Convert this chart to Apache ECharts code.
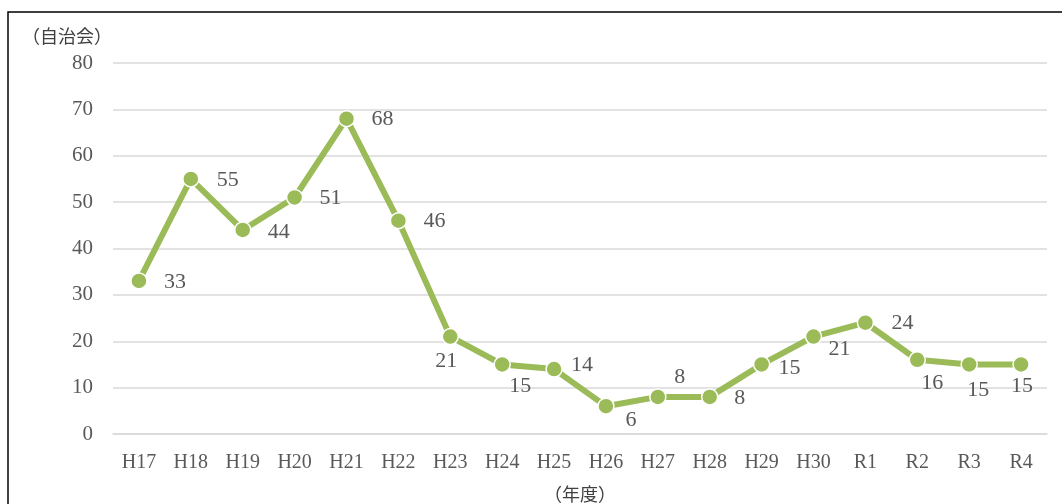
<!DOCTYPE html>
<html>
<head>
<meta charset="utf-8">
<script src="https://cdn.jsdelivr.net/npm/echarts@6/dist/echarts.min.js"></script>
<style>
  html, body { margin: 0; padding: 0; background: #fff; }
  #chart { width: 1062px; height: 504px; }
</style>
</head>
<body>
<div id="chart"></div>
<script>
// 年度
const years = ['H17', 'H18', 'H19', 'H20', 'H21', 'H22', 'H23', 'H24', 'H25',
  'H26', 'H27', 'H28', 'H29', 'H30', 'R1', 'R2', 'R3', 'R4']
// 自治会数
const counts = [33, 55, 44, 51, 68, 46, 21, 15, 14, 6, 8, 8, 15, 21, 24, 16, 15, 15]
const yTicks = [0, 10, 20, 30, 40, 50, 60, 70, 80]

const textColor = '#595959'
const fontFamily = '"Liberation Serif", "Noto Sans CJK JP", serif'

// ラベルの位置 (点からのずらし量)
const labelOffsets = [
  [36, 1], [37, 1], [36, 2], [36, 1], [36, 1], [36, 1],
  [-4, 25], [18, 22], [28, -4], [25, 14], [22, -20], [30, 1],
  [28, 4], [26, 13], [37, 1], [15, 23], [9, 26], [1, 22]
]

const chart = echarts.init(document.getElementById('chart'))

chart.setOption({
  animation: false,
  textStyle: { fontFamily },
  graphic: [{
    type: 'rect',
    shape: { x: 8, y: 12, width: 1080, height: 520 },
    style: { fill: 'none', stroke: '#000', lineWidth: 1.5 },
    silent: true
  }, {
    type: 'text',
    left: 22,
    top: 27,
    style: { text: '（自治会）', fill: '#404040', font: '18px "Noto Sans CJK JP"' }
  }],
  grid: { left: 113, right: 15, top: 63, bottom: 70, outerBoundsMode: 'none', containLabel: false },
  xAxis: {
    type: 'category',
    data: years,
    name: '（年度）',
    nameLocation: 'middle',
    nameGap: 51,
    nameTextStyle: { color: '#404040', fontSize: 18, fontFamily: '"Noto Sans CJK JP"' },
    axisLine: { lineStyle: { color: '#d9d9d9', width: 1.5 } },
    axisTick: { show: false },
    axisLabel: { color: textColor, fontSize: 20, margin: 19 }
  },
  yAxis: {
    type: 'value',
    min: yTicks[0],
    max: yTicks[yTicks.length - 1],
    interval: 10,
    axisLine: { show: false },
    axisTick: { show: false },
    axisLabel: { color: textColor, fontSize: 21, margin: 20 },
    splitLine: { lineStyle: { color: '#d9d9d9', width: 1.5 } }
  },
  series: [{
    type: 'line',
    data: counts.map((v, i) => ({
      value: v,
      label: { offset: labelOffsets[i] }
    })),
    symbol: 'circle',
    symbolSize: 16,
    lineStyle: { color: '#9bbb59', width: 6 },
    itemStyle: { color: '#9bbb59', borderColor: '#fff', borderWidth: 1.5 },
    label: {
      show: true,
      position: 'inside',
      color: textColor,
      fontSize: 22
    }
  }]
})
</script>
</body>
</html>
